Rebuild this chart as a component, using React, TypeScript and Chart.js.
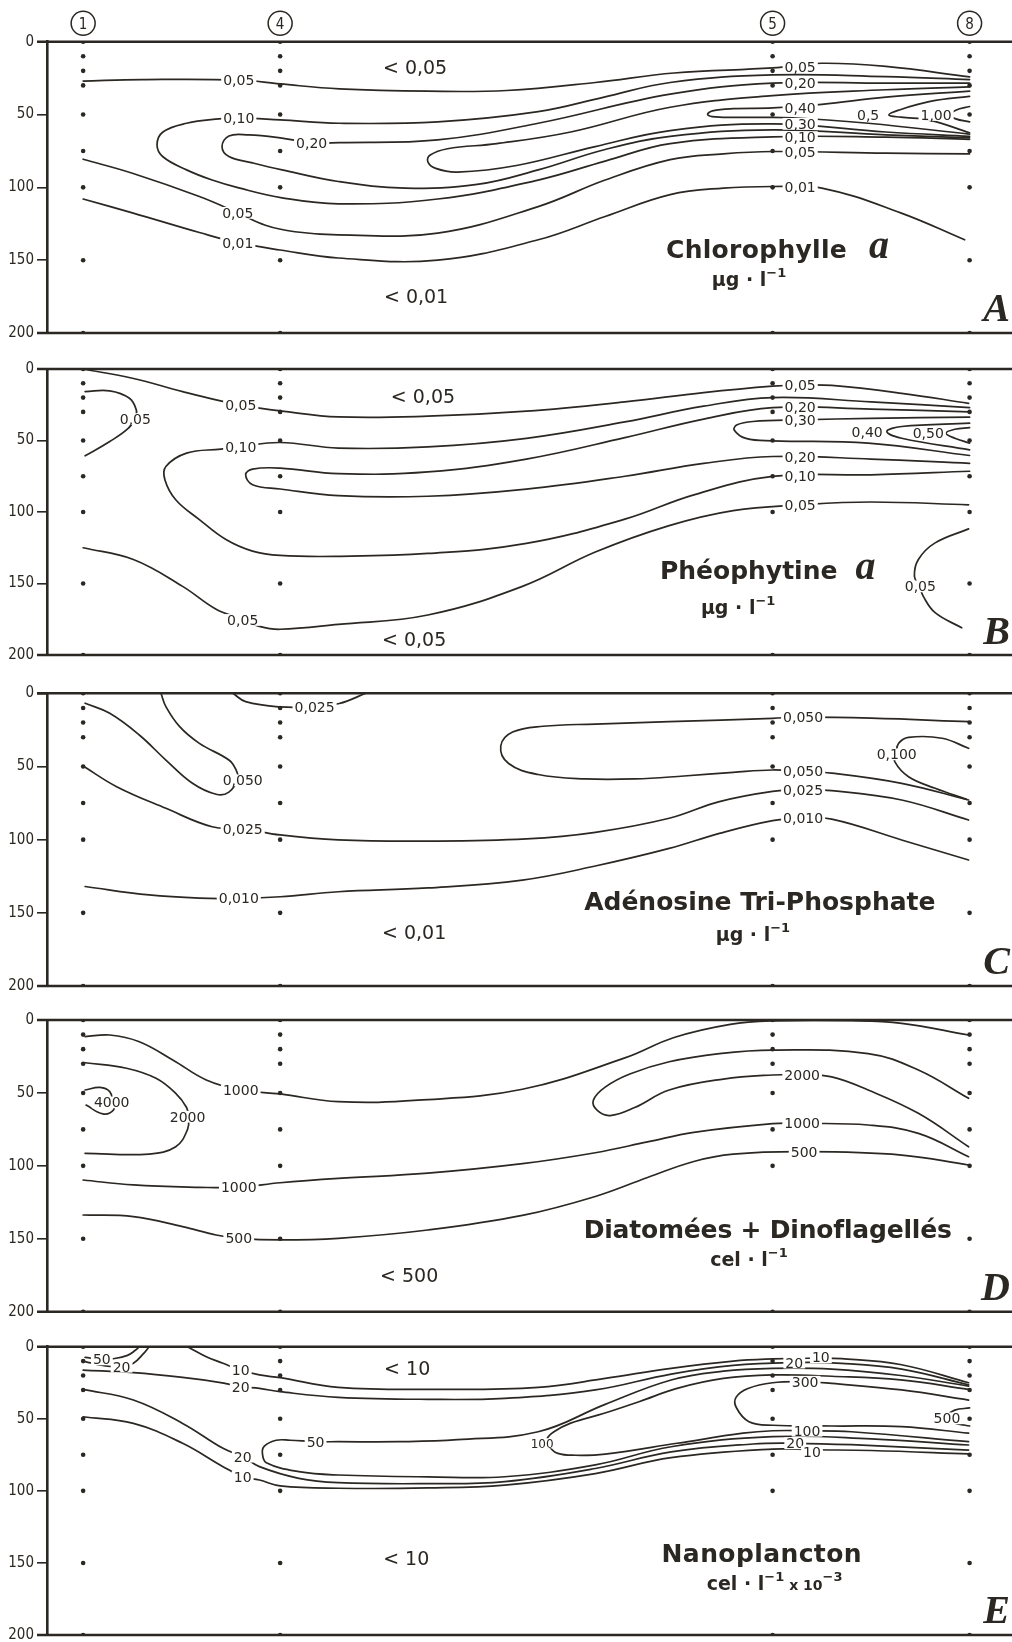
import { useEffect, useRef } from "react";
import { Chart, registerables } from "chart.js";

Chart.register(...registerables);

type Pt = [number, number];
type Lbl = { t: string; x: number; y: number; s?: number };
type Run = { t: string; kind?: "sup" | "small" };

const INK = "#2b2722";
const SANS = "'DejaVu Sans', 'Noto Sans', sans-serif";
const NARROW = "'Liberation Sans Narrow', 'DejaVu Sans Condensed', 'DejaVu Sans', sans-serif";
const SERIF = "'Liberation Serif', 'DejaVu Serif', serif";
const W = 1012;

// ---------- common axes data ----------
const STATION_NAMES = ["1", "4", "5", "8"];
const STATION_X = [0, 20, 70, 90]; // distance units along the section
const SAMPLE_DEPTHS = [0, 10, 20, 30, 50, 75, 100, 150, 200];
const DEPTH_TICKS = [0, 50, 100, 150, 200];
const X_MIN = -3.67;
const X_MAX = 93.9;

// ---------- A : Chlorophylle a ----------
const A_C005_TOP: Pt[] = [[0,27],[6,26],[15.8,26.3],[20,29],[26,32.4],[35,34],[43,33.5],[52,28],[60,21.5],[70,18],[75,14.8],[81.5,17],[90,24.2]];
const A_C005_LOW: Pt[] = [[0,80.7],[5,90.3],[11.8,106.3],[15.7,117.5],[18.5,126],[21.5,130.5],[25.9,132.6],[36,131.4],[46.2,113.2],[53,95],[59.6,81],[65,77],[70,75.4],[81.5,76.5],[90,77]];
const A_C010: Pt[] = [[90,26],[81.5,24],[70,22.8],[59.6,28],[52.9,38],[46.2,48],[36,55],[26,56],[20,53.7],[15.8,52.3],[13.8,53],[10.5,56],[8.1,62],[7.5,71],[8.1,79],[10.5,88],[13.1,95],[15.8,100.4],[20.2,107.2],[25.9,111.3],[36,108],[46.2,95],[53,82],[59.6,70],[70,65.3],[81.5,65.5],[90,67]];
const A_C020: Pt[] = [[90,28.5],[81.5,28.5],[70,28.5],[59.6,36],[46.2,56],[36,67.4],[26,69.3],[23.2,69.3],[20,66],[16.8,64],[14.8,64.7],[14.1,72],[14.8,78.9],[17.2,83.2],[20.2,88],[25.9,96],[32.7,100.5],[40,98],[46.2,88],[53,74],[59.6,65],[70,60.5],[81.5,64],[90,66]];
const A_C030: Pt[] = [[90,31],[81.5,33],[70,37],[59.6,45],[49.5,62],[42,70],[37,73.5],[35.2,78],[35,82.5],[35.8,87],[38,89.5],[44,85],[52,72],[59.6,61],[70,56.4],[81.5,62],[90,65]];
const A_C040: Pt[] = [[90,34],[81.5,38],[75,43],[70,45.5],[66,46],[63.9,47.5],[63.4,50],[64.2,51.6],[67,52],[72,52.2],[79.7,56],[90,63.5]];
const A_C050: Pt[] = [[90,37.5],[86,41],[82.8,47],[81.8,50.3],[83,51.8],[86,54],[90,62.5]];
const A_C100: Pt[] = [[90,44.5],[88.6,47],[88.1,50.3],[88.6,53],[90,55]];
const A_C001: Pt[] = [[0,108],[5,117.5],[11.8,131],[15.7,138],[20,143],[25.9,148.5],[36,150],[46.2,136],[53,120],[59.6,105],[65,100.5],[70,99.4],[75,100.5],[83,117.5],[89.5,136]];
const A_LABELS: Lbl[] = [
  { t: "0,05", x: 15.8, y: 26.3 }, { t: "0,10", x: 15.8, y: 52.3 }, { t: "0,20", x: 23.2, y: 69.3 },
  { t: "0,05", x: 15.7, y: 117.5 }, { t: "0,01", x: 15.7, y: 138.3 },
  { t: "0,05", x: 72.8, y: 17 }, { t: "0,20", x: 72.8, y: 28.5 }, { t: "0,40", x: 72.8, y: 45.5 },
  { t: "0,30", x: 72.8, y: 56.4 }, { t: "0,10", x: 72.8, y: 65.5 }, { t: "0,05", x: 72.8, y: 75.4 },
  { t: "0,01", x: 72.8, y: 99.4 }, { t: "0,5", x: 79.7, y: 50.3 }, { t: "1,00", x: 86.6, y: 50.3 },
];
const A_NOTES: Lbl[] = [{ t: "< 0,05", x: 33.7, y: 17.1 }, { t: "< 0,01", x: 33.8, y: 174.9 }];

// ---------- B : Phéophytine a ----------
const B_C005_TOP: Pt[] = [[0,0],[5,6.5],[10.1,15.8],[13.5,21.6],[16,25.1],[17.9,27.4],[20,29.3],[25.9,33.5],[35,33],[45,29.5],[55,23],[63,16.5],[70,12],[72.8,11.2],[76,11.5],[83.1,17],[89.9,24]];
const B_C005_SMALL: Pt[] = [[0.2,15.8],[2.7,15.3],[4.7,20.5],[5.4,28.6],[5.3,34],[4.6,41.4],[2.7,50.7],[0.2,60.7]];
const B_C010: Pt[] = [[90,27],[80,23],[70,20],[63,26],[55,37],[45,48.5],[35,54.5],[25.9,55.3],[20,51.4],[16,54.2],[14,56],[10.5,58.8],[8.4,68.2],[8.3,77.4],[9.4,91.4],[11.8,105.3],[14.5,119.3],[17.2,127.4],[20,130.4],[25.9,131],[35,129],[45,122],[55,105],[62,88],[70,75.1],[80,74],[90,71.5]];
const B_C020: Pt[] = [[90,30],[80,28],[70,27],[63,35],[55,48],[45,63],[35,72],[25.9,73.2],[20,69.3],[17.2,70],[16.5,73.9],[17.2,80.9],[20,83.9],[25.9,88.6],[35,89],[45,84],[55,75],[63,66],[70,61.2],[80,63],[90,66]];
const B_C030: Pt[] = [[90,33.7],[80,34.5],[72.8,35.6],[68,36.7],[66.4,39],[66.1,42.6],[67.3,48.5],[70,50.2],[79.7,51.8],[90,60.5]];
const B_C040: Pt[] = [[90,37.9],[83.1,40.2],[81.6,43.7],[83.1,48.4],[90,56.5]];
const B_C050: Pt[] = [[90,41],[88.5,42.1],[87.6,44.9],[88.5,48.4],[90,51.8]];
const B_C005_LOW: Pt[] = [[0,125],[5.1,133.2],[10.1,152],[13.5,168],[16.2,175],[17.9,180],[20,182],[25.9,178.6],[35,172],[44.6,152],[52,128],[59.5,109.5],[66,99],[72.8,95],[80,93],[89.9,95]];
const B_C005_RIGHT: Pt[] = [[89.9,111.8],[86.5,121.6],[84.8,133.2],[84.4,144.9],[84.9,152],[85.3,159],[86.5,170.4],[89.2,181]];
const B_LABELS: Lbl[] = [
  { t: "0,05", x: 16, y: 25.1 }, { t: "0,05", x: 5.3, y: 35 }, { t: "0,10", x: 16, y: 54.2 }, { t: "0,05", x: 16.2, y: 175.5 },
  { t: "0,05", x: 72.8, y: 11.2 }, { t: "0,20", x: 72.8, y: 26.7 }, { t: "0,30", x: 72.8, y: 35.6 },
  { t: "0,20", x: 72.8, y: 61.2 }, { t: "0,10", x: 72.8, y: 75.1 }, { t: "0,05", x: 72.8, y: 94.9 },
  { t: "0,40", x: 79.6, y: 43.7 }, { t: "0,50", x: 85.8, y: 44.9 }, { t: "0,05", x: 85, y: 152 },
];
const B_NOTES: Lbl[] = [{ t: "< 0,05", x: 34.5, y: 18.8 }, { t: "< 0,05", x: 33.6, y: 189 }];

// ---------- C : ATP ----------
const C_C050_LEFT: Pt[] = [[0.2,6.8],[2.7,13.7],[5.7,28.5],[8.4,45.6],[11.1,61.5],[13.5,69],[14.8,67.5],[15.7,58],[15.5,52],[14.8,45.6],[11.8,34.2],[9.8,22.8],[8.4,9.1],[7.9,0]];
const C_C025_TOP: Pt[] = [[15.2,0],[16.5,5.7],[20,9.3],[23.4,9.2],[26,7],[28.7,0]];
const C_C025: Pt[] = [[0,49.7],[3.4,63.8],[8.4,78.6],[13.1,91.2],[16.2,92.5],[20,96.8],[25.9,100.2],[35,101],[45,99.5],[52,95],[59.5,85.4],[64.6,74],[70,67],[72.8,66.1],[76,66.5],[83.1,72.9],[89.9,86.6]];
const C_C010: Pt[] = [[0.2,132],[6.7,137.8],[11.8,140],[15.8,140.1],[20,139],[25.9,135.6],[35,133],[44.6,127.6],[52,118],[59.5,106],[64.6,95.7],[70,87],[72.8,85.4],[76,86],[83.1,100.2],[89.9,113.9]];
const C_C050_RIGHT: Pt[] = [[89.9,19.4],[80,17],[72.8,16.3],[70,17.1],[59.5,19.4],[52,21],[46.7,22.5],[43.6,26.5],[42.4,36],[43.2,48],[46.2,55.5],[51,58.5],[56,58.5],[61,56.5],[66,54],[70,52.4],[72.8,53.3],[76,54.5],[83.1,61.5],[89.9,72.9]];
const C_C100: Pt[] = [[89.9,37.6],[87.2,30.7],[83.8,30.1],[82.8,34.2],[82.5,41.5],[82.4,46.7],[83.8,57],[86.5,64.9],[89.7,72.5]];
const C_LABELS: Lbl[] = [
  { t: "0,050", x: 16.2, y: 59.5 }, { t: "0,025", x: 23.5, y: 9.2 }, { t: "0,025", x: 16.2, y: 92.5 }, { t: "0,010", x: 15.8, y: 140.1 },
  { t: "0,050", x: 73.1, y: 16.3 }, { t: "0,050", x: 73.1, y: 53.3 }, { t: "0,025", x: 73.1, y: 66.1 },
  { t: "0,010", x: 73.1, y: 85.4 }, { t: "0,100", x: 82.6, y: 41.7 },
];
const C_NOTES: Lbl[] = [{ t: "< 0,01", x: 33.6, y: 163 }];

// ---------- D : Diatomées + Dinoflagellés ----------
const D_C1000_TOP: Pt[] = [[0.2,11.4],[2.7,10.3],[5.7,14.9],[9.1,27.4],[12.5,41.1],[16,48],[20,50.7],[25.9,56],[34,55],[44.6,47.5],[55,26],[60,12],[65.7,3],[70,0.6],[78,0.5],[83.1,2.3],[89.9,10.3]];
const D_C2000_LEFT: Pt[] = [[0.2,29.3],[4.4,33.1],[7.4,40],[9.4,50.3],[10.5,60],[10.7,66.3],[10.6,75],[9.4,86.9],[6.7,91.9],[0.2,91.4]];
const D_C4000: Pt[] = [[0.2,48],[1.7,46.2],[2.7,49.1],[3,56],[3.1,61.5],[2,64.4],[0.3,58.3]];
const D_C2000_RIGHT: Pt[] = [[89.9,53.7],[84.8,34.3],[79.7,23],[70,20.6],[64.6,23],[59.5,28.6],[55.5,37],[53,46],[51.8,55],[52.2,62],[53.5,65.5],[56,60],[59.5,48],[65,40.5],[70,37.7],[73,37.5],[76,39],[79.7,48],[84.8,64],[89.9,86.9]];
const D_C1000_LOW: Pt[] = [[0,109.7],[5.1,113.1],[11.8,114.7],[15.8,114.7],[20,111.6],[25.9,108.6],[35,105],[44.6,98.5],[52,91],[57.3,83.6],[62,77],[70,71],[73,70.9],[79.7,72],[84.8,77.7],[89.9,93.7]];
const D_C500: Pt[] = [[0,133.7],[5.1,134.8],[10.1,141.7],[13.5,147.4],[15.8,149.7],[20,150.8],[25.9,149.7],[35,144],[44.6,134],[52,121],[57.3,108],[62,97],[66,92],[73.2,90.3],[83.1,92.6],[89.9,99.4]];
const D_LABELS: Lbl[] = [
  { t: "1000", x: 16, y: 48 }, { t: "4000", x: 2.9, y: 56.5 }, { t: "2000", x: 10.6, y: 66.3 },
  { t: "1000", x: 15.8, y: 114.7 }, { t: "500", x: 15.8, y: 149.7 },
  { t: "2000", x: 73, y: 37.5 }, { t: "1000", x: 73, y: 70.9 }, { t: "500", x: 73.2, y: 90.3 },
];
const D_NOTES: Lbl[] = [{ t: "< 500", x: 33.1, y: 174.6 }];

// ---------- E : Nanoplancton ----------
const E_C50_TOP: Pt[] = [[0.2,7.4],[1.9,8.8],[3.2,8.2],[4.5,6],[5.3,2.5],[5.7,0]];
const E_C20_TOP: Pt[] = [[0.2,10.4],[2,13],[3.9,13.9],[5.1,11.5],[6.1,5],[6.7,0]];
const E_C10_UP: Pt[] = [[10.6,0],[12.5,6.9],[14.2,11.5],[16,16.2],[17.9,19.6],[20,21.5],[25.9,28.2],[36.1,29.6],[46.2,28.2],[53,22],[59.7,15],[66,10],[70,8.5],[73.7,8],[77,8.3],[83.1,12.5],[89.9,25]];
const E_C20_UP: Pt[] = [[0,16.2],[5.1,18],[10.1,21.3],[13.8,24.7],[16,27.7],[17.9,28.9],[20,31.2],[25.9,35.1],[35,36.5],[42.8,35.8],[52,30],[59.7,19],[66,13],[72.2,11],[77,11.5],[83.1,15.5],[89.9,26.4]];
const E_C50: Pt[] = [[89.9,27.3],[83,20],[76,15.5],[70,15],[65,17],[59.7,23.1],[53,40],[46.2,59],[38,64.5],[32,65.9],[25.9,65.9],[23.6,65.9],[21,64.9],[19.6,64.9],[18.4,69],[18.2,74],[18.6,80.5],[21.9,86.7],[25.9,89],[35,90.3],[42.8,90.2],[52,82],[59.7,69.4],[70,62.4],[80,64],[89.9,68.2]];
const E_C100: Pt[] = [[89.9,29.6],[83,23],[76,20.5],[70,19.6],[65,22],[60.3,28.9],[56.5,38],[52.9,46.2],[49.5,53],[47.8,59],[47.1,64],[47.3,69],[48.2,74],[50,75.3],[53,74.5],[60.3,67],[67,60],[70,58.3],[73.5,58.3],[78,59],[89.9,65.9]];
const E_C300: Pt[] = [[89.9,37],[83.1,30],[76,25.5],[73.3,24.3],[70,25],[67.5,29],[66.3,35],[66.3,42],[67.6,52],[70,54.5],[76,55],[83.1,55.5],[89.9,60]];
const E_C500: Pt[] = [[90,42.5],[88.5,44],[87.8,48],[88,51.5],[88.8,53.5],[90,55]];
const E_C20_LOW: Pt[] = [[0,29.6],[5.1,37],[10.1,53.2],[14.2,70.5],[16.2,76.3],[17.9,83.2],[21.9,91.3],[25.9,94.3],[35,95],[42.8,93.6],[52,84.5],[59.7,73],[68,67.5],[72.3,67],[78,68],[89.9,71.7]];
const E_C10_LOW: Pt[] = [[0,48.6],[5.1,53.2],[10.1,67],[14.2,83.2],[16.2,90.2],[17.9,92.5],[20,96.5],[25.9,98.2],[35,98],[42.8,96],[52,88],[59.7,77],[70,71],[74,71.5],[80,72],[89.9,74.4]];
const E_LABELS: Lbl[] = [
  { t: "50", x: 1.9, y: 8.8 }, { t: "20", x: 3.9, y: 13.9 }, { t: "10", x: 16, y: 16.2 }, { t: "20", x: 16, y: 27.7 },
  { t: "20", x: 16.2, y: 76.3 }, { t: "10", x: 16.2, y: 90.2 }, { t: "50", x: 23.6, y: 65.9 }, { t: "100", x: 46.6, y: 67, s: 12 },
  { t: "10", x: 74.9, y: 7.4 }, { t: "20", x: 72.2, y: 11 }, { t: "300", x: 73.3, y: 24.3 }, { t: "500", x: 87.7, y: 49.7 },
  { t: "100", x: 73.5, y: 58.3 }, { t: "20", x: 72.3, y: 67 }, { t: "10", x: 74, y: 72.8 },
];
const E_NOTES: Lbl[] = [{ t: "< 10", x: 32.9, y: 15 }, { t: "< 10", x: 32.8, y: 146.8 }];

// ---------- panels ----------
interface Panel {
  letter: string;
  lines: Pt[][];
  labels: Lbl[];
  notes: Lbl[];
  title: string;
  ital?: string;
  titleX: number;
  titleY: number;
  ls: number;
  gap: number;
  units: Run[];
  unitsX: number;
  unitsY: number;
  box: { top: number; height: number; padTop: number; padBottom: number };
  stations?: boolean;
}

const UG: Run[] = [{ t: "µg · l" }, { t: "−1", kind: "sup" }];
const CEL: Run[] = [{ t: "cel · l" }, { t: "−1", kind: "sup" }];
const CEL3: Run[] = [{ t: "cel · l" }, { t: "−1", kind: "sup" }, { t: " x 10", kind: "small" }, { t: "−3", kind: "sup" }];

const PANELS: Panel[] = [
  {
    letter: "A", lines: [A_C005_TOP, A_C005_LOW, A_C010, A_C020, A_C030, A_C040, A_C050, A_C100, A_C001],
    labels: A_LABELS, notes: A_NOTES, title: "Chlorophylle", ital: "a", titleX: 70.5, titleY: 148.6, ls: 0.3, gap: 22,
    units: UG, unitsX: 67.6, unitsY: 167.5, box: { top: 0, height: 345, padTop: 41.7, padBottom: 11.7 }, stations: true,
  },
  {
    letter: "B", lines: [B_C005_TOP, B_C005_SMALL, B_C010, B_C020, B_C030, B_C040, B_C050, B_C005_LOW, B_C005_RIGHT],
    labels: B_LABELS, notes: B_NOTES, title: "Phéophytine", ital: "a", titleX: 69.5, titleY: 146.7, ls: 0, gap: 18,
    units: UG, unitsX: 66.5, unitsY: 171, box: { top: 345, height: 322, padTop: 24, padBottom: 11.3 },
  },
  {
    letter: "C", lines: [C_C050_LEFT, C_C025_TOP, C_C025, C_C010, C_C050_RIGHT, C_C100],
    labels: C_LABELS, notes: C_NOTES, title: "Adénosine Tri-Phosphate", titleX: 68.7, titleY: 148, ls: 0, gap: 0,
    units: UG, unitsX: 68, unitsY: 169, box: { top: 667, height: 331, padTop: 26.3, padBottom: 12 },
  },
  {
    letter: "D", lines: [D_C1000_TOP, D_C2000_LEFT, D_C4000, D_C2000_RIGHT, D_C1000_LOW, D_C500],
    labels: D_LABELS, notes: D_NOTES, title: "Diatomées + Dinoflagellés", titleX: 69.5, titleY: 149.7, ls: -0.2, gap: 0,
    units: CEL, unitsX: 67.6, unitsY: 169, box: { top: 998, height: 326, padTop: 22, padBottom: 12.3 },
  },
  {
    letter: "E", lines: [E_C50_TOP, E_C20_TOP, E_C10_UP, E_C20_UP, E_C50, E_C100, E_C300, E_C500, E_C20_LOW, E_C10_LOW],
    labels: E_LABELS, notes: E_NOTES, title: "Nanoplancton", titleX: 68.9, titleY: 149.1, ls: 0.4, gap: 0,
    units: CEL3, unitsX: 70.2, unitsY: 168.8, box: { top: 1324, height: 323, padTop: 22.7, padBottom: 12 },
  },
];

function sampleDots() {
  const pts: { x: number; y: number }[] = [];
  STATION_X.forEach((sx, i) => {
    SAMPLE_DEPTHS.forEach((d) => {
      if (STATION_NAMES[i] === "5" && d === 150) return; // hidden behind the title
      pts.push({ x: sx, y: d });
    });
  });
  return pts;
}

function overlay(p: Panel) {
  return {
    id: "overlay" + p.letter,
    beforeDatasetsDraw(chart: any) {
      const { ctx } = chart;
      const ys = chart.scales.y;
      const yTop = ys.getPixelForValue(0);
      const yBot = ys.getPixelForValue(200);
      ctx.save();
      ctx.strokeStyle = INK;
      ctx.lineWidth = 2.6;
      ctx.beginPath();
      ctx.moveTo(37, yTop);
      ctx.lineTo(chart.width, yTop);
      ctx.moveTo(37, yBot);
      ctx.lineTo(chart.width, yBot);
      ctx.stroke();
      ctx.restore();
    },
    afterDatasetsDraw(chart: any) {
      const { ctx, chartArea } = chart;
      const xs = chart.scales.x;
      const ys = chart.scales.y;
      const c: any = ctx;
      ctx.save();
      ctx.textAlign = "center";
      ctx.textBaseline = "alphabetic";
      // contour labels
      for (const l of p.labels) {
        const size = l.s ?? 14;
        ctx.font = `${size}px ${SANS}`;
        const px = xs.getPixelForValue(l.x);
        const py = ys.getPixelForValue(l.y);
        const w = ctx.measureText(l.t).width;
        ctx.fillStyle = "#ffffff";
        ctx.fillRect(px - w / 2 - 2, py - size * 0.42, w + 4, size * 0.84);
        ctx.fillStyle = INK;
        ctx.fillText(l.t, px, py + size * 0.36);
      }
      // region notes
      ctx.font = `19px ${SANS}`;
      for (const n of p.notes) {
        ctx.fillText(n.t, xs.getPixelForValue(n.x), ys.getPixelForValue(n.y) + 7);
      }
      // title
      ctx.textAlign = "left";
      const tFont = `bold 25px ${SANS}`;
      const iFont = `bold italic 40px ${SERIF}`;
      ctx.font = tFont;
      c.letterSpacing = `${p.ls}px`;
      const w1 = ctx.measureText(p.title).width;
      c.letterSpacing = "0px";
      ctx.font = iFont;
      const w2 = p.ital ? ctx.measureText(p.ital).width : 0;
      const total = w1 + (p.ital ? p.gap + w2 : 0);
      const x0 = xs.getPixelForValue(p.titleX) - total / 2;
      const by = ys.getPixelForValue(p.titleY);
      ctx.font = tFont;
      c.letterSpacing = `${p.ls}px`;
      ctx.fillText(p.title, x0, by);
      c.letterSpacing = "0px";
      if (p.ital) {
        ctx.font = iFont;
        ctx.fillText(p.ital, x0 + w1 + p.gap, by);
      }
      // units
      const fontOf = (r: Run) =>
        r.kind === "sup" ? `bold 13px ${SANS}` : r.kind === "small" ? `bold 14px ${SANS}` : `bold 19px ${SANS}`;
      let tw = 0;
      for (const r of p.units) {
        ctx.font = fontOf(r);
        tw += ctx.measureText(r.t).width;
      }
      let ux = xs.getPixelForValue(p.unitsX) - tw / 2;
      const uy = ys.getPixelForValue(p.unitsY);
      for (const r of p.units) {
        ctx.font = fontOf(r);
        ctx.fillText(r.t, ux, uy + (r.kind === "sup" ? -9 : 0));
        ux += ctx.measureText(r.t).width;
      }
      // panel letter
      ctx.textAlign = "right";
      ctx.font = `bold italic 40px ${SERIF}`;
      ctx.fillText(p.letter, chart.width - 2, ys.getPixelForValue(192));
      // station markers
      if (p.stations) {
        ctx.textAlign = "center";
        ctx.lineWidth = 1.5;
        ctx.strokeStyle = INK;
        STATION_X.forEach((sx, i) => {
          const cx = xs.getPixelForValue(sx);
          const cy = chartArea.top - 18.4;
          ctx.beginPath();
          ctx.arc(cx, cy, 12, 0, Math.PI * 2);
          ctx.stroke();
          ctx.font = `15px ${NARROW}`;
          ctx.fillText(STATION_NAMES[i], cx, cy + 5.5);
        });
      }
      ctx.restore();
    },
  };
}

function buildConfig(p: Panel): any {
  const datasets: any[] = p.lines.map((pts) => ({
    type: "line",
    data: pts.map(([x, y]) => ({ x, y })),
    borderColor: INK,
    borderWidth: 1.7,
    borderJoinStyle: "round",
    borderCapStyle: "round",
    pointRadius: 0,
    tension: 0.4,
    fill: false,
  }));
  datasets.push({
    type: "scatter",
    data: sampleDots(),
    pointRadius: 2.3,
    pointBackgroundColor: INK,
    pointBorderWidth: 0,
  });
  return {
    type: "line",
    data: { datasets },
    options: {
      animation: false,
      responsive: false,
      maintainAspectRatio: false,
      events: [],
      layout: { padding: { top: p.box.padTop, bottom: p.box.padBottom, left: 0, right: 0 } },
      plugins: { legend: { display: false }, tooltip: { enabled: false }, title: { display: false } },
      scales: {
        x: { type: "linear", min: X_MIN, max: X_MAX, display: false },
        y: {
          type: "linear",
          min: 0,
          max: 200,
          reverse: true,
          afterFit: (s: any) => {
            s.width = 47;
          },
          afterBuildTicks: (s: any) => {
            s.ticks = DEPTH_TICKS.map((v) => ({ value: v }));
          },
          ticks: { color: INK, padding: 3, font: { family: NARROW, size: 15 } },
          grid: { drawOnChartArea: false, drawTicks: true, tickLength: 10, color: INK, lineWidth: 1.6 },
          border: { display: true, color: INK, width: 2.6 },
        },
      },
    },
    plugins: [overlay(p)],
  };
}

function PanelChart({ p }: { p: Panel }) {
  const ref = useRef<HTMLCanvasElement | null>(null);
  useEffect(() => {
    const c = ref.current;
    if (!c) return;
    const chart = new Chart(c, buildConfig(p));
    return () => chart.destroy();
  }, [p]);
  return (
    <canvas
      ref={ref}
      width={W}
      height={p.box.height}
      style={{ position: "absolute", left: 0, top: p.box.top, width: W, height: p.box.height }}
    />
  );
}

export default function App() {
  return (
    <div
      style={{
        position: "absolute",
        left: 0,
        top: 0,
        width: W,
        height: 1642,
        overflow: "hidden",
        background: "#ffffff",
      }}
    >
      {PANELS.map((p) => (
        <PanelChart key={p.letter} p={p} />
      ))}
    </div>
  );
}
